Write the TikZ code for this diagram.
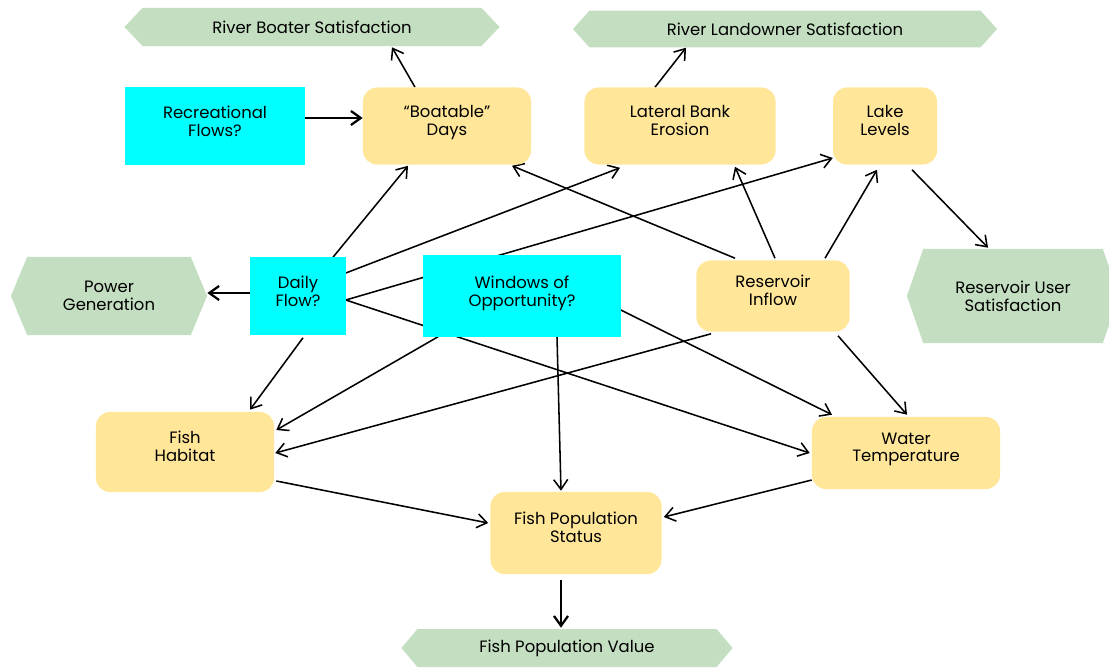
\documentclass[tikz,border=0pt]{standalone}
\usepackage{fontspec}
\setmainfont{Poppins}
\usetikzlibrary{arrows.meta,calc,shapes.symbols,backgrounds}
\definecolor{factorfill}{HTML}{FFE699}
\definecolor{valuefill}{HTML}{C3DEC0}
\definecolor{choicefill}{HTML}{00FFFF}

\begin{document}
\begin{tikzpicture}[x=0.025cm,y=-0.025cm,
	font=\fontsize{11.7}{12.6}\selectfont,
	factor/.style={fill=factorfill, rounded corners=0.35cm, align=center, inner sep=0pt, text depth=8pt},
	choice/.style={fill=choicefill, align=center, inner sep=0pt, text depth=7pt},
	valuehex/.style={shape=signal, signal to=west and east, fill=valuefill, align=center, inner sep=0pt},
	link/.style={-{Straight Barb[length=7pt,width=10pt]}, line width=1.1pt},
	biglink/.style={link, line width=1.6pt}]
	\useasboundingbox (0,0) rectangle (1109,670);
	
	% Values (hexagons)
	\node[valuehex, minimum width=9.375cm, minimum height=0.95cm, signal pointer angle=93] (rboat) at (312,27) {River Boater Satisfaction};
	\node[valuehex, minimum width=10.6cm, minimum height=0.92cm, signal pointer angle=96] (rland) at (785,29) {River Landowner Satisfaction};
	\node[valuehex, minimum width=4.9cm, minimum height=1.95cm, signal pointer angle=135] (power) at (109,296) {Power\\Generation};
	\node[valuehex, minimum width=5.3cm, minimum height=2.35cm, signal pointer angle=142] (resuser) at (1013,296) {Reservoir User\\Satisfaction};
	\node[valuehex, minimum width=8.275cm, minimum height=0.95cm, signal pointer angle=100] (fval) at (567,648) {Fish Population Value};
	
	% Decisions
	\node[choice, minimum width=4.5cm, minimum height=1.95cm] (recr) at (215,126) {Recreational\\Flows?};
	\node[choice, minimum width=2.375cm, minimum height=1.925cm] (daily) at (298,296) {Daily\\Flow?};
	\node[choice, minimum width=4.925cm, minimum height=2.025cm] (windows) at (522,296) {Windows of\\Opportunity?};
	
	% Factors
	\node[factor, minimum width=4.2cm, minimum height=1.925cm] (boat) at (447,126) {``Boatable''\\Days};
	\node[factor, minimum width=4.775cm, minimum height=1.925cm] (bank) at (680,126) {Lateral Bank\\Erosion};
	\node[factor, minimum width=2.6cm, minimum height=1.925cm] (lake) at (885,126) {Lake\\Levels};
	\node[factor, minimum width=3.825cm, minimum height=1.775cm] (inflow) at (773,296) {Reservoir\\Inflow};
	\node[factor, minimum width=4.45cm, minimum height=2cm] (fhab) at (185,452) {Fish\\Habitat};
	\node[factor, minimum width=4.7cm, minimum height=1.8cm] (wtemp) at (906,453) {Water\\Temperature};
	\node[factor, minimum width=4.275cm, minimum height=2.05cm] (fstat) at (576,533) {Fish Population\\Status};
	
	% Influences, kept behind the boxes
	\begin{pgfonlayer}{background}
		\draw[link] ($(boat.north)+(-32,0)$) -- ($(rboat.south)+(80,1)$);
		\draw[biglink] ($(recr.east)+(0,-8)$) -- ($(boat.west)+(0,-8)$);
		\draw[link] ($(bank.north)+(-25,0)$) -- ($(rland.south)+(-99,0)$);
		
		\draw[link] ($(daily.north)+(35,0)$) -- ($(boat.south)+(-39,1)$);
		\draw[link] ($(daily.east)+(0,-23)$) -- ($(bank.south)+(-60,3)$);
		\draw[link] ($(daily.east)+(0,4)$) -- ($(lake.west)+(0,32)$);
		\draw[link] ($(daily.east)+(0,4)$) -- ($(wtemp.west)+(-2,0)$);
		\draw[biglink] ($(daily.west)+(0,-3)$) -- ($(power.east)+(0,-3)$);
		\draw[link] ($(daily.south)+(5,3)$) -- ($(fhab.north)+(65,-2)$);
		
		\draw[link] ($(windows.south)+(-84,0)$) -- ($(fhab.east)+(2,-22)$);
		\draw[link] ($(windows.south)+(35,0)$) -- ($(fstat.north)+(-15,-1)$);
		\draw[link] ($(windows.east)+(0,14)$) -- ($(wtemp.north)+(-74,-2)$);
		
		\draw[link] ($(inflow.south)+(-62,2)$) -- ($(fhab.east)+(1,1)$);
		\draw[link] ($(inflow.north)+(-38,-2)$) -- ($(boat.south)+(65,1)$);
		\draw[link] ($(inflow.north)+(2,-2)$) -- ($(bank.south)+(55,2)$);
		\draw[link] ($(inflow.north)+(52,-2)$) -- ($(lake.south)+(-8,5)$);
		\draw[link] ($(inflow.south)+(65,4)$) -- ($(wtemp.north)+(1,-2)$);
		
		\draw[link] ($(lake.south)+(27,5)$) -- ($(resuser.north)+(-25,-1)$);
		
		\draw[link] ($(fhab.east)+(2,29)$) -- ($(fstat.west)+(-2,-10)$);
		\draw[link] ($(wtemp.west)+(0,27)$) -- ($(fstat.east)+(2,-16)$);
		\draw[biglink] ($(fstat.south)+(-15,6)$) -- ($(fval.north)+(-6,-1)$);
	\end{pgfonlayer}
\end{tikzpicture}
\end{document}
